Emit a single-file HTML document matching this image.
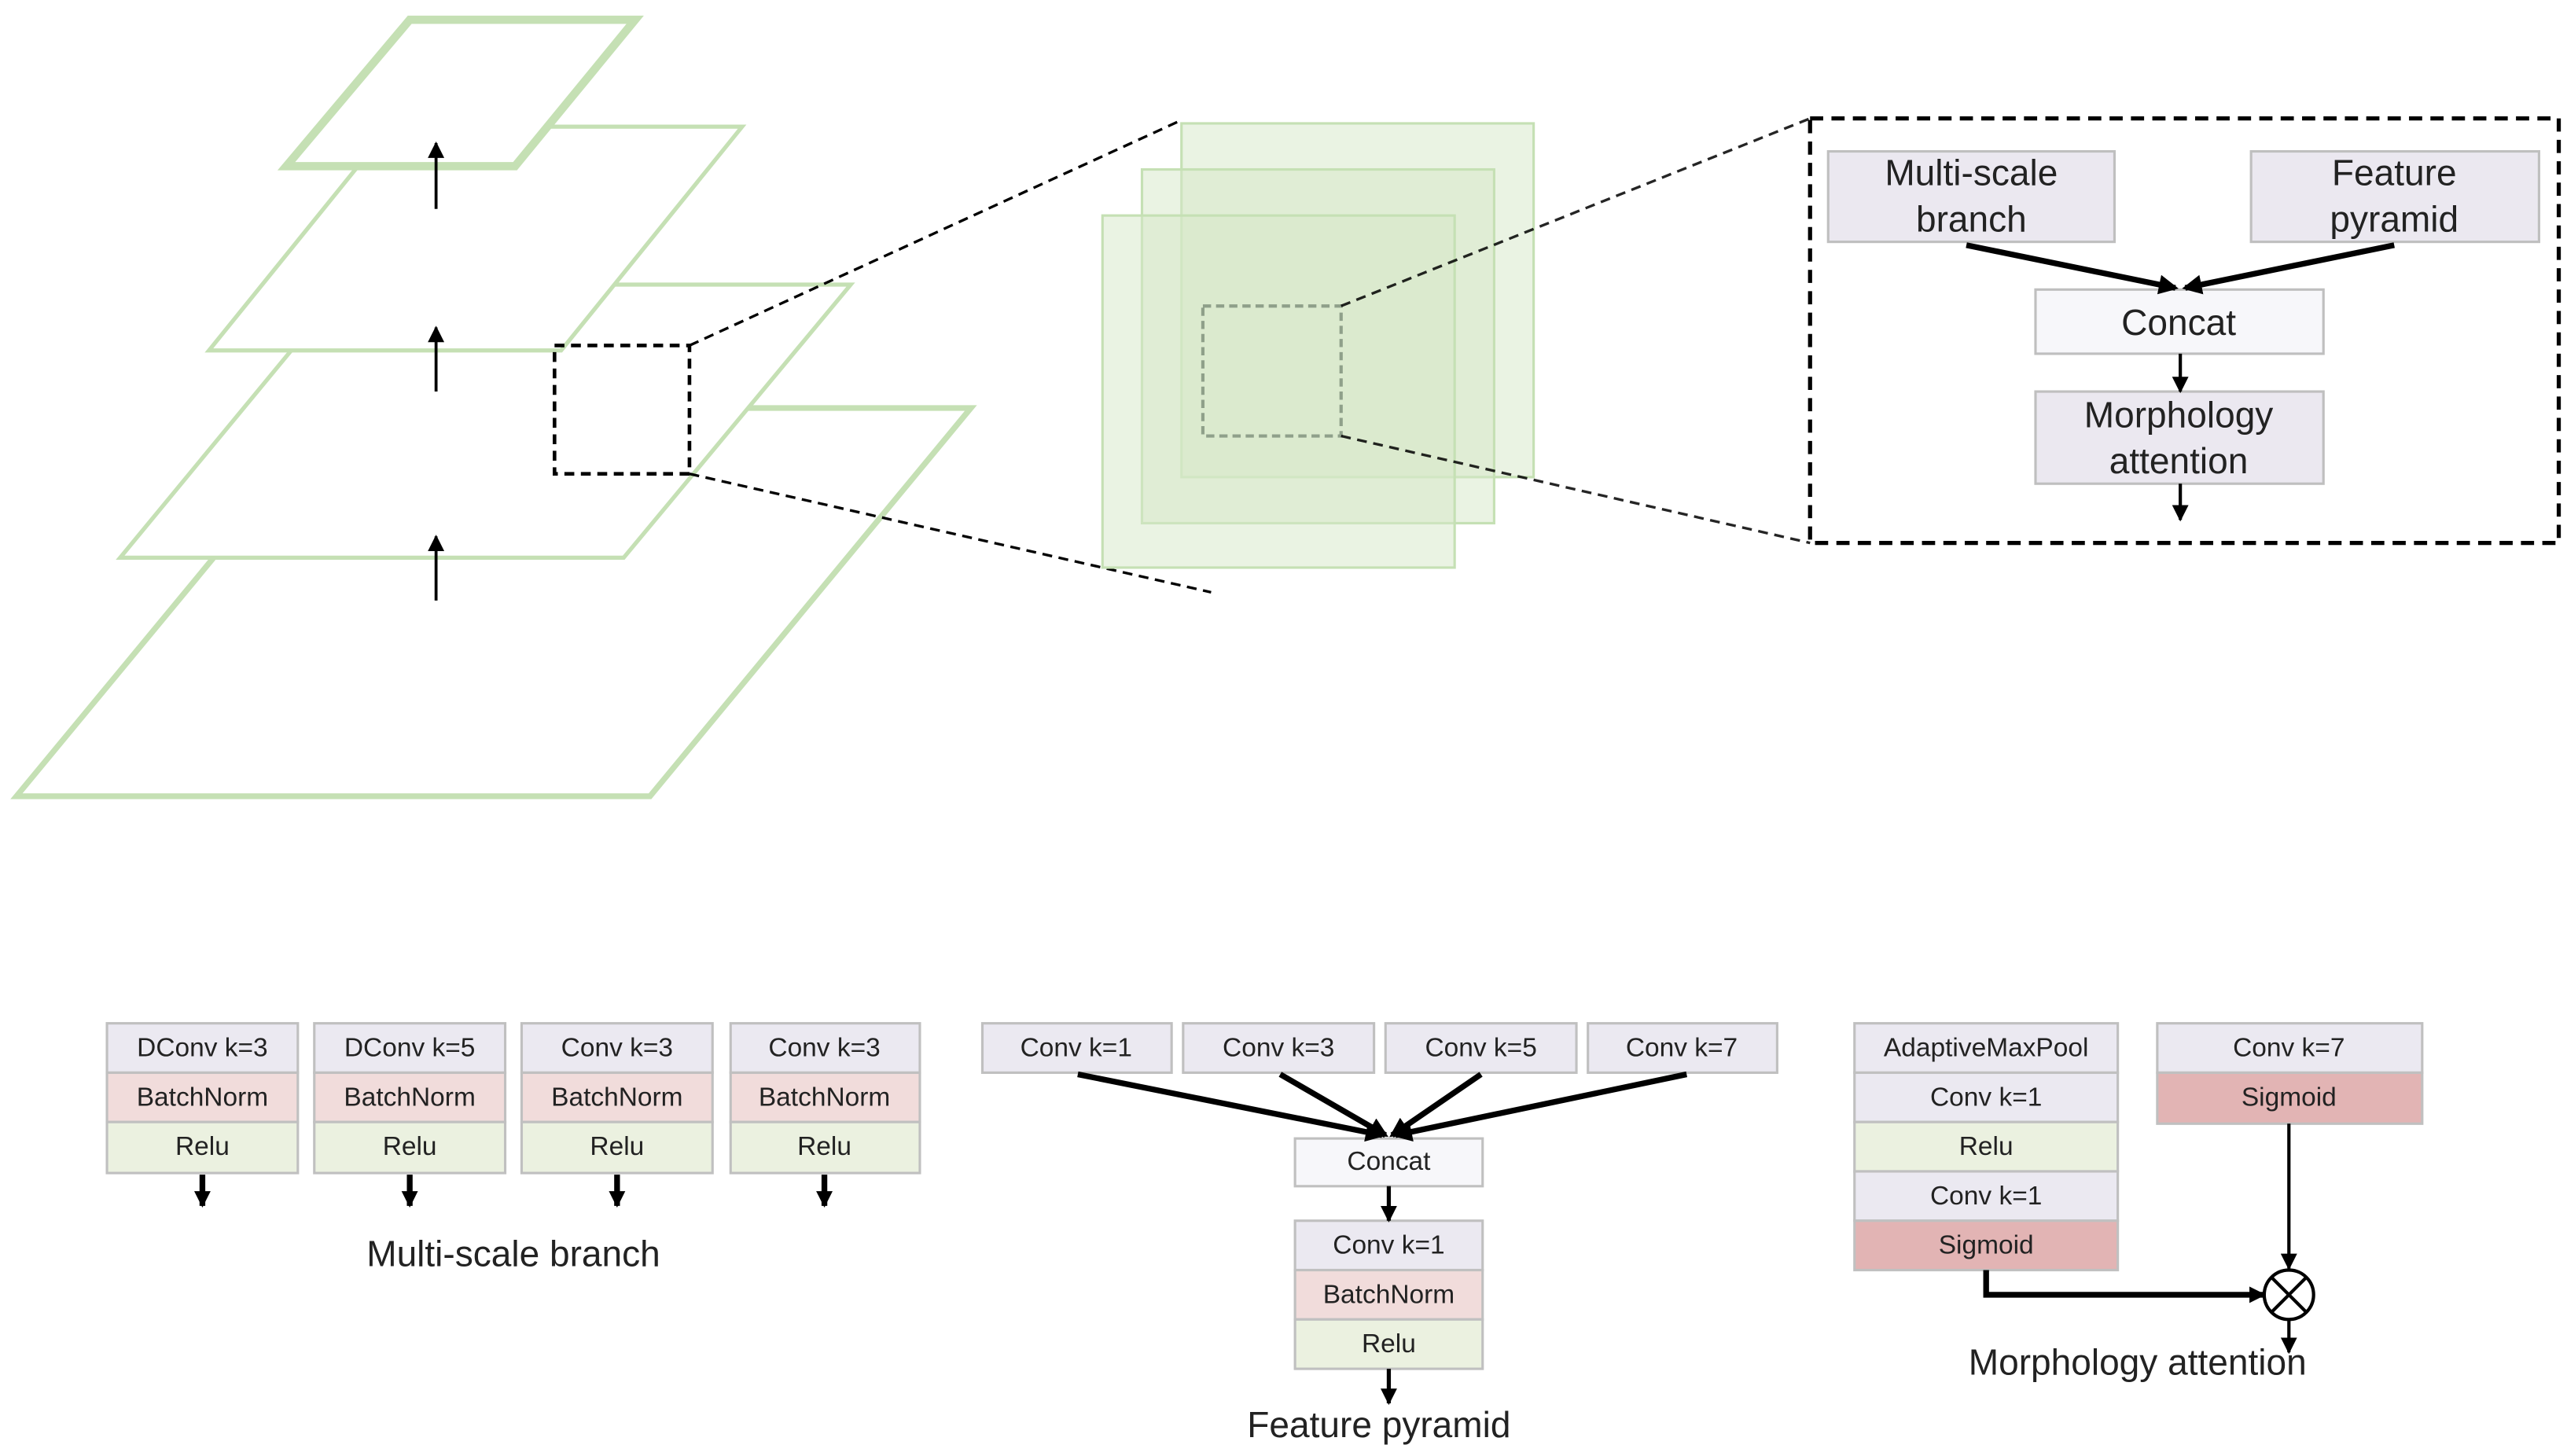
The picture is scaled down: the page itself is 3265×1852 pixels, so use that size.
<!DOCTYPE html>
<html><head><meta charset="utf-8"><style>
html,body{margin:0;padding:0;background:#fff;}
svg{display:block;}
text{font-family:"Liberation Sans",sans-serif;fill:#222;text-anchor:middle;dominant-baseline:central;}
</style></head><body>
<svg width="3265" height="1852" viewBox="0 0 1560 885" preserveAspectRatio="none" xmlns="http://www.w3.org/2000/svg">
<defs>
<marker id="ah" markerWidth="10" markerHeight="10" refX="9" refY="5" orient="auto" markerUnits="userSpaceOnUse"><path d="M0,0 L10,5 L0,10 z" fill="#000"/></marker>
<marker id="ah2" markerWidth="12" markerHeight="12" refX="10" refY="6" orient="auto" markerUnits="userSpaceOnUse"><path d="M0,0 L12,6 L0,12 z" fill="#000"/></marker>
</defs>
<g fill="#fff" stroke="#c5e0b4">
<polygon points="205,248 590,248 395,484 10,484" stroke-width="3.5"/>
<polygon points="210,173 517,173 379,339 73,339" stroke-width="2.5"/>
<polygon points="237,77 451,77 341,213 127,213" stroke-width="2.5"/>
<polygon points="249,12 386,12 313,101 174,101" stroke-width="5"/>
</g>
<g stroke="#000" stroke-width="1.8" marker-end="url(#ah)">
<line x1="265" y1="365" x2="265" y2="326"/>
<line x1="265" y1="238" x2="265" y2="199"/>
<line x1="265" y1="127" x2="265" y2="87"/>
</g>
<rect x="337" y="210" width="82" height="78" fill="none" stroke="#000" stroke-width="2.2" stroke-dasharray="6,4"/>
<line x1="419" y1="210" x2="718" y2="73" stroke="#000" stroke-width="1.6" stroke-dasharray="6,4"/>
<line x1="419" y1="288" x2="736" y2="360" stroke="#000" stroke-width="1.6" stroke-dasharray="6,4"/>
<g stroke="#c5e0b4" stroke-width="1.5" fill="#d5e7c8" fill-opacity="0.5">
<rect x="718" y="75" width="214" height="215"/>
<rect x="694" y="103" width="214" height="215"/>
<rect x="670" y="131" width="214" height="214"/>
</g>
<rect x="731" y="186" width="84" height="79" fill="none" stroke="#8fa08a" stroke-width="2" stroke-dasharray="5,3"/>
<line x1="815" y1="186" x2="1100" y2="72" stroke="#000" stroke-width="1.6" stroke-dasharray="6,4" opacity="0.85"/>
<line x1="815" y1="265" x2="1100" y2="330" stroke="#000" stroke-width="1.6" stroke-dasharray="6,4" opacity="0.85"/>
<rect x="1100" y="72" width="455" height="258" fill="none" stroke="#000" stroke-width="2.5" stroke-dasharray="8,5"/>
<g stroke="#bfbfbf" stroke-width="1.5">
<rect x="1111" y="92" width="174" height="55" fill="#ebe8f0"/>
<rect x="1368" y="92" width="175" height="55" fill="#ebe8f0"/>
<rect x="1237" y="176" width="175" height="39" fill="#f7f7fa"/>
<rect x="1237" y="238" width="175" height="56" fill="#ebe8f0"/>
</g>
<g font-size="22">
<text x="1198" y="105">Multi-scale</text><text x="1198" y="133">branch</text>
<text x="1455" y="105">Feature</text><text x="1455" y="133">pyramid</text>
<text x="1324" y="196">Concat</text>
<text x="1324" y="252">Morphology</text><text x="1324" y="280">attention</text>
</g>
<g stroke="#000" stroke-width="3.5" marker-end="url(#ah2)">
<line x1="1195" y1="149" x2="1322" y2="175"/>
<line x1="1455" y1="149" x2="1328" y2="175"/>
</g>
<g stroke="#000" stroke-width="2" marker-end="url(#ah)">
<line x1="1325" y1="215" x2="1325" y2="238"/>
<line x1="1325" y1="294" x2="1325" y2="316"/>
</g>
<g stroke="#c0c0c0" stroke-width="1.5">
<rect x="65" y="622" width="116" height="30" fill="#ebe9f1"/><rect x="65" y="652" width="116" height="30" fill="#f1dcdb"/><rect x="65" y="682" width="116" height="31" fill="#ebf1e0"/>
<rect x="191" y="622" width="116" height="30" fill="#ebe9f1"/><rect x="191" y="652" width="116" height="30" fill="#f1dcdb"/><rect x="191" y="682" width="116" height="31" fill="#ebf1e0"/>
<rect x="317" y="622" width="116" height="30" fill="#ebe9f1"/><rect x="317" y="652" width="116" height="30" fill="#f1dcdb"/><rect x="317" y="682" width="116" height="31" fill="#ebf1e0"/>
<rect x="444" y="622" width="115" height="30" fill="#ebe9f1"/><rect x="444" y="652" width="115" height="30" fill="#f1dcdb"/><rect x="444" y="682" width="115" height="31" fill="#ebf1e0"/>
</g>
<g font-size="16">
<text x="123" y="637">DConv k=3</text><text x="123" y="667">BatchNorm</text><text x="123" y="697">Relu</text>
<text x="249" y="637">DConv k=5</text><text x="249" y="667">BatchNorm</text><text x="249" y="697">Relu</text>
<text x="375" y="637">Conv k=3</text><text x="375" y="667">BatchNorm</text><text x="375" y="697">Relu</text>
<text x="501" y="637">Conv k=3</text><text x="501" y="667">BatchNorm</text><text x="501" y="697">Relu</text>
</g>
<g stroke="#000" stroke-width="3.5" marker-end="url(#ah)">
<line x1="123" y1="714" x2="123" y2="733"/><line x1="249" y1="714" x2="249" y2="733"/>
<line x1="375" y1="714" x2="375" y2="733"/><line x1="501" y1="714" x2="501" y2="733"/>
</g>
<text x="312" y="762" font-size="22">Multi-scale branch</text>
<g stroke="#c0c0c0" stroke-width="1.5">
<rect x="597" y="622" width="115" height="30" fill="#ebe9f1"/>
<rect x="719" y="622" width="116" height="30" fill="#ebe9f1"/>
<rect x="842" y="622" width="116" height="30" fill="#ebe9f1"/>
<rect x="965" y="622" width="115" height="30" fill="#ebe9f1"/>
<rect x="787" y="692" width="114" height="29" fill="#f7f7fa"/>
<rect x="787" y="742" width="114" height="30" fill="#ebe9f1"/>
<rect x="787" y="772" width="114" height="30" fill="#f1dcdb"/>
<rect x="787" y="802" width="114" height="30" fill="#ebf1e0"/>
</g>
<g font-size="16">
<text x="654" y="637">Conv k=1</text><text x="777" y="637">Conv k=3</text><text x="900" y="637">Conv k=5</text><text x="1022" y="637">Conv k=7</text>
<text x="844" y="706">Concat</text>
<text x="844" y="757">Conv k=1</text><text x="844" y="787">BatchNorm</text><text x="844" y="817">Relu</text>
</g>
<g stroke="#000" stroke-width="3.5" marker-end="url(#ah2)">
<line x1="655" y1="653" x2="840" y2="690"/>
<line x1="778" y1="653" x2="842" y2="690"/>
<line x1="900" y1="653" x2="846" y2="690"/>
<line x1="1025" y1="653" x2="848" y2="690"/>
</g>
<g stroke="#000" stroke-width="2.5" marker-end="url(#ah)">
<line x1="844" y1="721" x2="844" y2="742"/>
<line x1="844" y1="832" x2="844" y2="853"/>
</g>
<text x="838" y="866" font-size="22">Feature pyramid</text>
<g stroke="#c0c0c0" stroke-width="1.5">
<rect x="1127" y="622" width="160" height="30" fill="#ebe9f1"/>
<rect x="1127" y="652" width="160" height="30" fill="#ebe9f1"/>
<rect x="1127" y="682" width="160" height="30" fill="#ebf1e0"/>
<rect x="1127" y="712" width="160" height="30" fill="#ebe9f1"/>
<rect x="1127" y="742" width="160" height="30" fill="#e2b4b4"/>
<rect x="1311" y="622" width="161" height="30" fill="#ebe9f1"/>
<rect x="1311" y="652" width="161" height="31" fill="#e2b4b4"/>
</g>
<g font-size="16">
<text x="1207" y="637">AdaptiveMaxPool</text><text x="1207" y="667">Conv k=1</text><text x="1207" y="697">Relu</text><text x="1207" y="727">Conv k=1</text><text x="1207" y="757">Sigmoid</text>
<text x="1391" y="637">Conv k=7</text><text x="1391" y="667">Sigmoid</text>
</g>
<line x1="1391" y1="683" x2="1391" y2="771" stroke="#000" stroke-width="2" marker-end="url(#ah)"/>
<polyline points="1207,772 1207,787 1376,787" fill="none" stroke="#000" stroke-width="3.5" marker-end="url(#ah)"/>
<circle cx="1391" cy="787" r="15" fill="#fff" stroke="#000" stroke-width="2"/>
<line x1="1380.4" y1="776.4" x2="1401.6" y2="797.6" stroke="#000" stroke-width="2"/>
<line x1="1401.6" y1="776.4" x2="1380.4" y2="797.6" stroke="#000" stroke-width="2"/>
<line x1="1391" y1="802" x2="1391" y2="822" stroke="#000" stroke-width="2" marker-end="url(#ah)"/>
<text x="1299" y="828" font-size="22">Morphology attention</text>
</svg>
</body></html>
